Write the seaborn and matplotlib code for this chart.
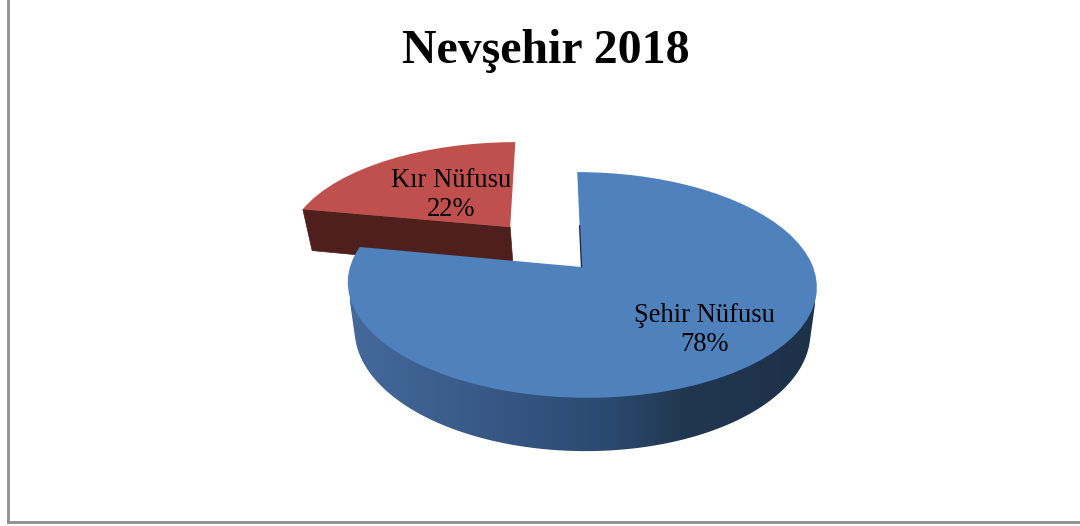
import matplotlib
matplotlib.use('Agg')
import matplotlib.pyplot as plt
import matplotlib.transforms as mtransforms
from matplotlib.colors import LinearSegmentedColormap
from matplotlib.patches import Polygon
import numpy as np
import seaborn as sns

# Data
title = 'Nevşehir 2018'
labels = ['Şehir Nüfusu', 'Kır Nüfusu']
shares = [78, 22]

sns.set_theme(style='white')
plt.rcParams['font.family'] = ['Liberation Serif', 'DejaVu Serif']


# maps the flat pie (unit circle) to picture pixels, with perspective
class Tilt(mtransforms.Transform):
    input_dims = 2
    output_dims = 2
    is_affine = False

    def __init__(self, cx, cy, rx, ry, k=0.159, lean=0.0):
        super().__init__()
        self.cx, self.cy, self.rx, self.ry, self.k, self.lean = cx, cy, rx, ry, k, lean

    def transform_non_affine(self, values):
        values = np.asarray(values)
        u, v = values[:, 0], values[:, 1]
        w = 1 + self.k * v
        return np.column_stack([self.cx + (self.rx * u + self.lean * v) / w, self.cy - self.ry * v / w])


def hull(points):
    pts = sorted(map(tuple, points))

    def half(seq):
        out = []
        for p in seq:
            while len(out) > 1 and ((out[-1][0] - out[-2][0]) * (p[1] - out[-2][1])
                                    - (out[-1][1] - out[-2][1]) * (p[0] - out[-2][0])) <= 0:
                out.pop()
            out.append(p)
        return out[:-1]

    return np.array(half(pts) + half(pts[::-1]))


top = Tilt(581.5, 267, 231.5, 110, lean=-5)
bottom = Tilt(582, 312, 225, 117, lean=-3)

fig = plt.figure(figsize=(10.8, 5.26), dpi=100)
ax = fig.add_axes([8 / 1080, 4 / 526, 1 - 8 / 1080, 1 - 4 / 526])

wedges, _ = ax.pie(shares, explode=[0, 0.5], startangle=90, counterclock=False,
                   colors=['#4F81BD', '#C0504D'], wedgeprops={'linewidth': 0})
ax.set_axis_on()
ax.set_frame_on(True)
ax.set_aspect('auto')
ax.set_xticks([])
ax.set_yticks([])
sns.despine(ax=ax)
for side in ['left', 'bottom']:
    ax.spines[side].set_color('#8f8f8f')
    ax.spines[side].set_linewidth(2)

blue_wall = LinearSegmentedColormap.from_list('wall', [
    (0.0, '#44699b'), (0.27, '#385a88'), (0.55, '#2b4a70'), (0.72, '#213750'), (1.0, '#1d3149')])

blue, red = wedges
tr = ax.transData


def rim(wedge, a, m):
    cx, cy = wedge.center
    return m.transform_non_affine(np.column_stack([cx + wedge.r * np.cos(a), cy + wedge.r * np.sin(a)]))


# red slice: the flat side facing us
corner = np.radians([red.theta2])
apex = np.array([red.center])
quad = np.vstack([rim(red, corner, top), top.transform_non_affine(apex),
                  bottom.transform_non_affine(apex), rim(red, corner, bottom)])
ax.fill(quad[:, 0], quad[:, 1], color='#4e1f1c', lw=0.5, zorder=2)
red.set_transform(top + tr)
red.set_zorder(3)

# blue slice: outer wall with a left to right gradient, clipped to the front outline
angles = np.radians(np.linspace(blue.theta1, blue.theta2, 361))
front = angles[np.sin(angles) <= -0.1]
wall = hull(np.vstack([rim(blue, front, top), rim(blue, front, bottom)]))
im = ax.imshow(np.linspace(0, 1, 256)[None, :], cmap=blue_wall, aspect='auto',
               extent=[350, 815, 460, 170], zorder=4)
im.set_clip_path(Polygon(wall, transform=tr))
blue.set_transform(top + tr)
blue.set_zorder(5)

# thin dark sliver of the inner side next to the centre
edge = np.radians(blue.theta2 if np.isclose(np.sin(np.radians(blue.theta2)), 1) else blue.theta1)
inner = top.transform_non_affine(np.array([blue.center,
                                           [blue.r * 0.4 * np.cos(edge), blue.r * 0.4 * np.sin(edge)]]))
ax.plot(inner[:, 0], inner[:, 1], color='#1d3149', lw=1, zorder=5)

ax.set_xlim(8, 1080)
ax.set_ylim(522, 0)

ax.text(546, 51, title, ha='center', va='center', fontsize=34.5, fontweight='bold', color='black', zorder=6)
ax.text(704.5, 330, f'{labels[0]}\n{shares[0]}%', ha='center', va='center', fontsize=19.1,
        linespacing=1.26, color='black', zorder=6)
ax.text(451.5, 195, f'{labels[1]}\n{shares[1]}%', ha='center', va='center', fontsize=19.1,
        linespacing=1.26, color='black', zorder=6)

fig.savefig('out.png', dpi=100)
